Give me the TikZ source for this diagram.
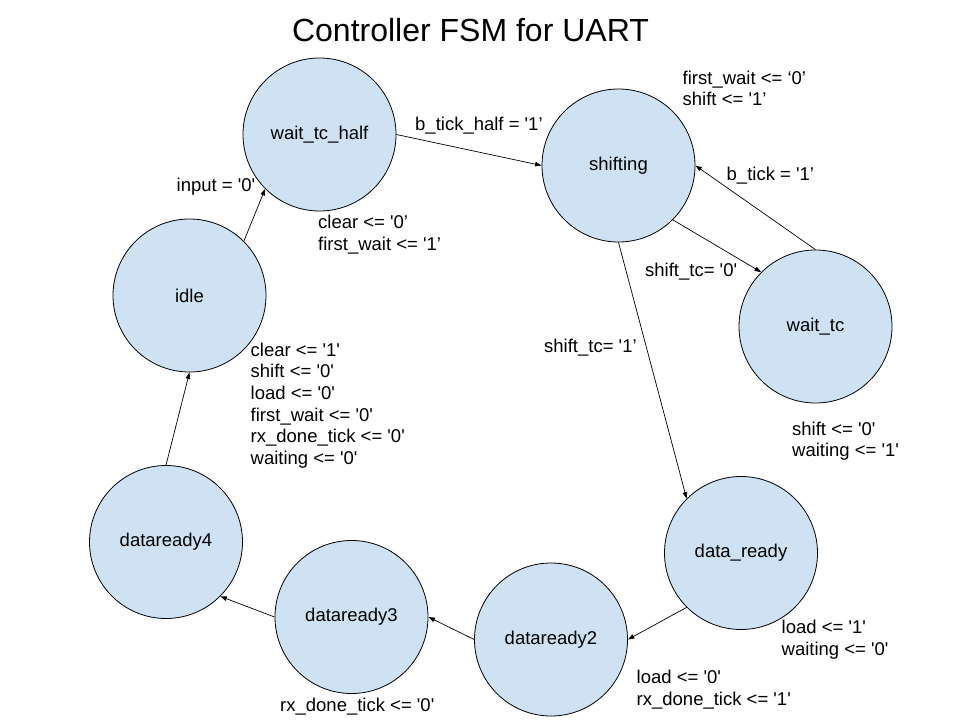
\documentclass[tikz,border=0pt]{standalone}
\usepackage{fontspec}
\setmainfont{Liberation Sans}
\usetikzlibrary{arrows.meta}
\definecolor{stfill}{HTML}{CFE2F3}
\newcommand{\sq}{\textquotesingle}
\newcommand{\lines}[1]{\begin{tabular}[t]{@{}l@{}}#1\end{tabular}}
\begin{document}
\begin{tikzpicture}[x=1pt,y=-1pt,
  state/.style={circle,draw=black,line width=0.8pt,fill=stfill,minimum size=153pt,inner sep=0pt,
    font=\fontsize{18.5}{21.7}\selectfont},
  lab/.style={anchor=base west,inner sep=0pt,font=\fontsize{18.5}{21.7}\selectfont},
  tr/.style={draw=black,line width=0.7pt,-{Triangle[length=6.5pt,width=4.5pt]}},
  titlestyle/.style={anchor=base,inner sep=0pt,font=\fontsize{32}{38}\selectfont}
]
\useasboundingbox[fill=white] (0,0) rectangle (960,720);

\node[titlestyle] (title) at (470.5,41.7) {Controller FSM for UART};

\node[state] (wth)  at (319.5,134.5) {wait\_tc\_half};
\node[state] (shft) at (618.5,165.5) {shifting};
\node[state] (wtc)  at (815.5,326.5) {wait\_tc};
\node[state] (idle) at (189.5,295.5) {idle};
\node[state] (dr)   at (741,553) {data\_ready};
\node[state] (dr2)  at (551,639.5) {dataready2};
\node[state] (dr3)  at (351.5,617) {dataready3};
\node[state] (dr4)  at (166,542) {dataready4};

\draw[tr] (idle.45) -- (wth.225);
\draw[tr] (wth.east) -- (shft.west);
\draw[tr] (shft.-45) -- (wtc.135);
\draw[tr] (wtc.north) -- (shft.east);
\draw[tr] (shft.south) -- (dr.135);
\draw[tr] (dr.-135) -- (dr2.east);
\draw[tr] (dr2.west) -- (dr3.east);
\draw[tr] (dr3.west) -- (dr4.-45);
\draw[tr] (dr4.north) -- (idle.south);

\node[lab] (l1) at (176.5,191) {input = \sq0\sq};
\node[lab] (l2) at (415,130) {b\_tick\_half = \sq1’};
\node[lab] (l3) at (318,228.3) {\lines{clear <= \sq0’\\first\_wait <= \sq1’}};
\node[lab] (l4) at (682.5,84) {\lines{first\_wait <= ‘0’\\shift <= \sq1’}};
\node[lab] (l5) at (726.5,180) {b\_tick = \sq1’};
\node[lab] (l6) at (645,276.7) {shift\_tc= \sq0\sq};
\node[lab] (l7) at (544,352) {shift\_tc= \sq1’};
\node[lab] (l8) at (792,435) {\lines{shift <= \sq0\sq\\waiting <= \sq1\sq}};
\node[lab] (l9) at (250.5,356) {\lines{clear <= \sq1\sq\\shift <= \sq0\sq\\load <= \sq0\sq\\first\_wait <= \sq0\sq\\rx\_done\_tick <= \sq0\sq\\waiting <= \sq0\sq}};
\node[lab] (l10) at (781.5,633.3) {\lines{load <= \sq1\sq\\waiting <= \sq0\sq}};
\node[lab] (l11) at (636.5,683.3) {\lines{load <= \sq0\sq\\rx\_done\_tick <= \sq1\sq}};
\node[lab] (l12) at (280,711.7) {rx\_done\_tick <= \sq0\sq};
\end{tikzpicture}
\end{document}
